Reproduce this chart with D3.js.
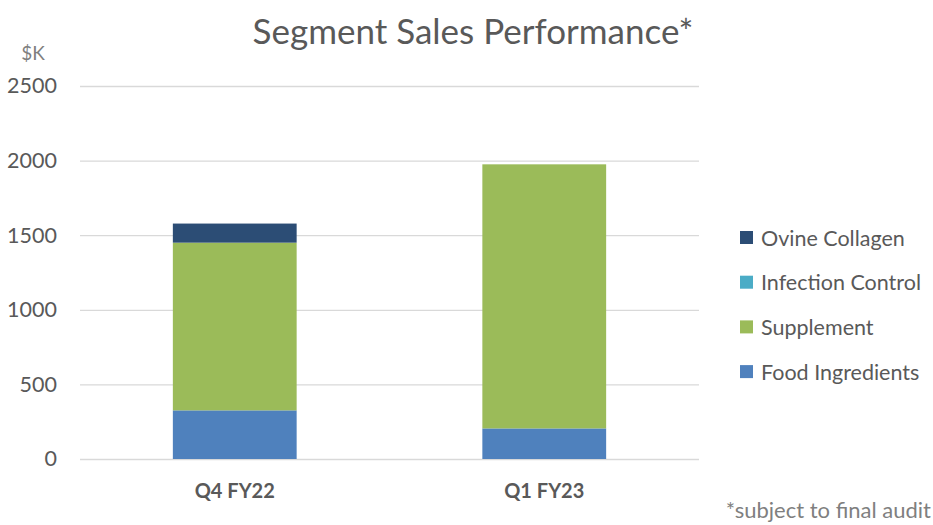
<!DOCTYPE html>
<html>
<head>
<meta charset="utf-8">
<script src="https://cdn.jsdelivr.net/npm/d3@7"></script>
<style>
  body { margin: 0; background: #fff; }
  text { font-family: Lato, "Open Sans", sans-serif; }
</style>
</head>
<body>
<div id="chart"></div>
<script>
// Data
const quarters = ["Q4 FY22", "Q1 FY23"];
const segments = ["Food Ingredients", "Supplement", "Infection Control", "Ovine Collagen"];
const foodIngredients = [326, 205];
const supplement = [1124, 1770];
const infectionControl = [0, 0];
const ovineCollagen = [128, 0];
const yTicks = [0, 500, 1000, 1500, 2000, 2500];
const colours = ["#4F81BD", "#9BBB59", "#4BACC6", "#2C4D75"];

const width = 933, height = 525;
const margin = { top: 86, right: 234, bottom: 66, left: 80 };

const rows = quarters.map((q, i) => ({
  quarter: q,
  "Food Ingredients": foodIngredients[i],
  "Supplement": supplement[i],
  "Infection Control": infectionControl[i],
  "Ovine Collagen": ovineCollagen[i]
}));
const stacked = d3.stack().keys(segments)(rows);

const svg = d3.select("#chart").append("svg")
  .attr("width", width)
  .attr("height", height);

const innerW = width - margin.left - margin.right;
const innerH = height - margin.top - margin.bottom;

const x = d3.scaleBand().domain(quarters).range([0, innerW]).paddingInner(0.6).paddingOuter(0.3);
const y = d3.scaleLinear().domain([0, 2500]).range([innerH, 0]);
const colour = d3.scaleOrdinal().domain(segments).range(colours);

const chart = svg.append("g").attr("transform", `translate(${margin.left},${margin.top})`);

// gridlines + labels
const yAxis = d3.axisLeft(y).tickValues(yTicks).tickSize(-innerW).tickPadding(23).tickFormat(d => d);
chart.append("g").call(yAxis)
  .call(g => g.select(".domain").remove())
  .call(g => g.selectAll("line").attr("stroke", "#D9D9D9").attr("stroke-width", 1.3))
  .call(g => g.selectAll("text").attr("fill", "#595959").style("font-size", "21.5px")
    .style("font-family", "Lato, 'Open Sans', sans-serif"));

// stacked bars
chart.selectAll(".layer")
  .data(stacked)
  .join("g")
  .attr("class", "layer")
  .attr("fill", d => colour(d.key))
  .selectAll("rect")
  .data(d => d.filter(p => p[1] - p[0] > 0))
  .join("rect")
  .attr("x", d => x(d.data.quarter))
  .attr("y", d => y(d[1]))
  .attr("height", d => y(d[0]) - y(d[1]))
  .attr("width", x.bandwidth());

// x labels
const xAxis = d3.axisBottom(x).tickSize(0).tickPadding(25);
chart.append("g").attr("transform", `translate(0,${innerH})`).call(xAxis)
  .call(g => g.select(".domain").remove())
  .call(g => g.selectAll("text").attr("fill", "#595959").style("font-size", "20px")
    .style("font-weight", "bold").style("font-family", "Lato, 'Open Sans', sans-serif"));

// title
svg.append("text")
  .attr("x", 473).attr("y", 44)
  .attr("text-anchor", "middle")
  .attr("fill", "#595959")
  .style("font-size", "35px")
  .text("Segment Sales Performance*");

svg.append("text")
  .attr("x", 33).attr("y", 60)
  .attr("text-anchor", "middle")
  .attr("fill", "#7F7F7F")
  .style("font-size", "19px")
  .text("$K");

// legend (top to bottom reversed order)
const legend = svg.append("g").attr("transform", "translate(740,238)");
const legendItems = segments.slice().reverse();
const li = legend.selectAll("g").data(legendItems).join("g")
  .attr("transform", (d, i) => `translate(0,${i * 44.7})`);
li.append("rect").attr("x", 0).attr("y", -7).attr("width", 13).attr("height", 13)
  .attr("fill", d => colour(d));
li.append("text").attr("x", 21).attr("y", 0).attr("dy", "0.35em")
  .attr("fill", "#595959").style("font-size", "21.5px").text(d => d);

// footnote
svg.append("text")
  .attr("x", 931).attr("y", 518)
  .attr("text-anchor", "end")
  .attr("fill", "#7F7F7F")
  .style("font-size", "22px")
  .text("*subject to final audit");
</script>
</body>
</html>
